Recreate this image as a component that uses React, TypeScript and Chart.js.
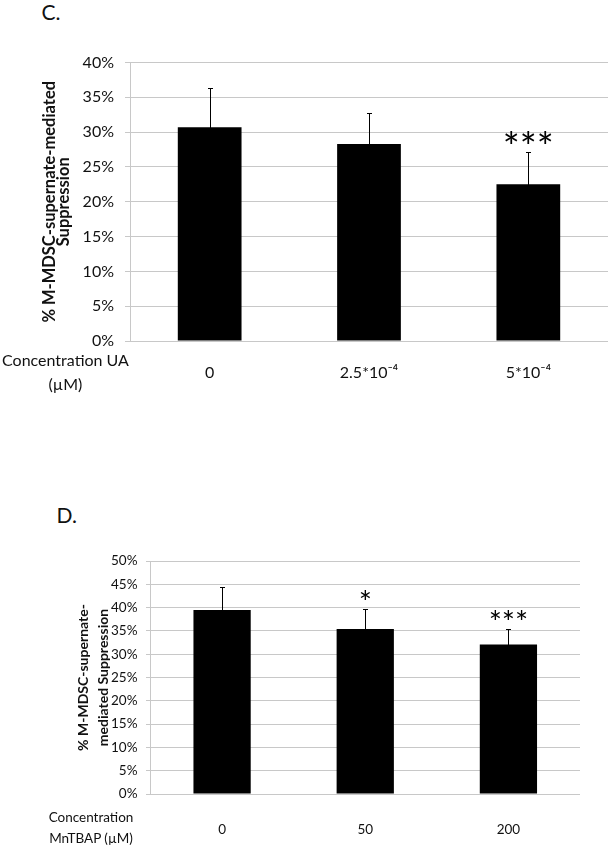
import React, { useEffect, useRef } from "react";
import { Chart, registerables } from "chart.js";

Chart.register(...registerables);

// ---------- Data: panel C ----------
const C_CATEGORIES = ["0", "2.5*10⁻⁴", "5*10⁻⁴"];
const C_VALUES = [30.7, 28.3, 22.5];
const C_ERRORS = [5.7, 4.4, 4.6];
const C_STARS = ["", "", "***"];
const C_MAX = 40;
const C_Y_TITLE = ["% M-MDSC-supernate-mediated", "Suppression"];
const C_X_TITLE = ["Concentration UA", "(µM)"];

// ---------- Data: panel D ----------
const D_CATEGORIES = ["0", "50", "200"];
const D_VALUES = [39.5, 35.4, 32.1];
const D_ERRORS = [5.0, 4.3, 3.3];
const D_STARS = ["", "*", "***"];
const D_MAX = 50;
const D_Y_TITLE = ["% M-MDSC-supernate-", "mediated Suppression"];
const D_X_TITLE = ["Concentration", "MnTBAP (µM)"];

const TICK_STEP = 5;

const FONT = "Lato";
const TEXT = "#111";
const GRID = "#c8c8c8";

type Panel = {
  categories: string[];
  values: number[];
  errors: number[];
  stars: string[];
  max: number;
  yTitle: string[];
  tickSize: number;
  titleSize: number;
  titleLineHeight: string;
  titlePad: number;
  catSize: number;
  catPad: number;
  axisWidth: number;
  xAxisHeight: number;
  padTop: number;
  padRight: number;
  tickLen: number;
  tickPad: number;
  starSize: number;
  starGap: number;
};

function errorBarPlugin(p: Panel) {
  return {
    id: "errorBarsAndStars",
    afterDatasetsDraw(chart: any) {
      const ctx = chart.ctx;
      const meta = chart.getDatasetMeta(0);
      const y = chart.scales.y;
      ctx.save();
      ctx.strokeStyle = "#000";
      ctx.lineWidth = 1;
      p.values.forEach((v, i) => {
        const bar = meta.data[i];
        if (!bar) return;
        const x = Math.round(bar.x) + 0.5;
        const yTop = Math.round(y.getPixelForValue(v + p.errors[i])) + 0.5;
        const yBot = Math.round(y.getPixelForValue(v - p.errors[i])) + 0.5;
        ctx.beginPath();
        ctx.moveTo(x, yBot);
        ctx.lineTo(x, yTop);
        ctx.moveTo(x - 2.5, yTop);
        ctx.lineTo(x + 2.5, yTop);
        ctx.moveTo(x - 2.5, yBot);
        ctx.lineTo(x + 2.5, yBot);
        ctx.stroke();
        const s = p.stars[i];
        if (s) {
          ctx.font = `${p.starSize}px ${FONT}`;
          ctx.fillStyle = "#000";
          ctx.textAlign = "center";
          ctx.textBaseline = "alphabetic";
          const m = ctx.measureText(s);
          const center = yTop - p.starGap;
          const base = center + (m.actualBoundingBoxAscent - m.actualBoundingBoxDescent) / 2;
          ctx.fillText(s, bar.x, base);
        }
      });
      ctx.restore();
    },
  };
}

function buildConfig(p: Panel): any {
  return {
    type: "bar",
    data: {
      labels: p.categories,
      datasets: [
        {
          data: p.values,
          backgroundColor: "#000",
          borderWidth: 0,
          barPercentage: 0.4,
          categoryPercentage: 1.0,
        },
      ],
    },
    options: {
      responsive: false,
      animation: false,
      devicePixelRatio: 1,
      layout: { padding: { top: p.padTop, right: p.padRight, left: 0, bottom: 0 } },
      plugins: { legend: { display: false }, tooltip: { enabled: false } },
      scales: {
        x: {
          grid: { display: false, drawTicks: false, tickLength: 0 },
          border: { display: false },
          ticks: {
            font: { family: FONT, size: p.catSize },
            color: TEXT,
            padding: p.catPad,
            maxRotation: 0,
            autoSkip: false,
          },
          afterFit: (s: any) => {
            s.height = p.xAxisHeight;
          },
        },
        y: {
          min: 0,
          max: p.max,
          grid: { color: GRID, lineWidth: 1, drawTicks: true, tickLength: p.tickLen },
          border: { display: true, color: GRID, width: 1 },
          ticks: {
            stepSize: TICK_STEP,
            callback: (v: number) => `${v}%`,
            font: { family: FONT, size: p.tickSize },
            color: TEXT,
            padding: p.tickPad,
          },
          title: {
            display: true,
            text: p.yTitle,
            color: TEXT,
            font: { family: FONT, size: p.titleSize, weight: "bold", lineHeight: p.titleLineHeight },
            padding: { top: p.titlePad, bottom: 0 },
          },
          afterFit: (s: any) => {
            s.width = p.axisWidth;
          },
        },
      },
    },
    plugins: [errorBarPlugin(p)],
  };
}

const PANEL_C: Panel = {
  categories: C_CATEGORIES,
  values: C_VALUES,
  errors: C_ERRORS,
  stars: C_STARS,
  max: C_MAX,
  yTitle: C_Y_TITLE,
  tickSize: 16,
  titleSize: 16.5,
  titleLineHeight: "14.5px",
  titlePad: 42,
  catSize: 16,
  catPad: 22.5,
  axisWidth: 130,
  xAxisHeight: 59,
  padTop: 62.5,
  padRight: 3,
  tickLen: 5,
  tickPad: 11,
  starSize: 40,
  starGap: 16,
};

const PANEL_D: Panel = {
  categories: D_CATEGORIES,
  values: D_VALUES,
  errors: D_ERRORS,
  stars: D_STARS,
  max: D_MAX,
  yTitle: D_Y_TITLE,
  tickSize: 13.5,
  titleSize: 14,
  titleLineHeight: "20px",
  titlePad: 73.5,
  catSize: 13.5,
  catPad: 27.3,
  axisWidth: 150.5,
  xAxisHeight: 55,
  padTop: 61,
  padRight: 31,
  tickLen: 4.5,
  tickPad: 8.5,
  starSize: 31,
  starGap: 15,
};

function BarPanel({ top, height, panel }: { top: number; height: number; panel: Panel }) {
  const ref = useRef<HTMLCanvasElement>(null);
  useEffect(() => {
    const chart = new Chart(ref.current as HTMLCanvasElement, buildConfig(panel));
    return () => chart.destroy();
  }, [panel]);
  return (
    <canvas
      ref={ref}
      width={611}
      height={height}
      style={{ position: "absolute", left: 0, top, width: 611, height, display: "block" }}
    />
  );
}

function TextBlock({
  lines,
  left,
  top,
  width,
  size,
  lineHeight,
}: {
  lines: string[];
  left: number;
  top: number;
  width: number;
  size: number;
  lineHeight: number;
}) {
  return (
    <div
      style={{
        position: "absolute",
        left,
        top,
        width,
        textAlign: "center",
        fontFamily: FONT,
        fontSize: size,
        lineHeight: `${lineHeight}px`,
        color: TEXT,
        whiteSpace: "nowrap",
      }}
    >
      {lines.map((l, i) => (
        <div key={i}>{l}</div>
      ))}
    </div>
  );
}

export default function App() {
  useEffect(() => {
    document.body.style.margin = "0";
  }, []);
  return (
    <div style={{ position: "relative", width: 611, height: 849, background: "#fff", overflow: "hidden" }}>
      <div
        style={{
          position: "absolute",
          left: 41.5,
          top: 1.4,
          fontFamily: FONT,
          fontSize: 21,
          lineHeight: "21px",
          color: TEXT,
        }}
      >
        C.
      </div>
      <BarPanel top={0} height={400} panel={PANEL_C} />
      <TextBlock lines={C_X_TITLE} left={0} top={348} width={131} size={16} lineHeight={24} />

      <div
        style={{
          position: "absolute",
          left: 56.5,
          top: 504.4,
          fontFamily: FONT,
          fontSize: 21,
          lineHeight: "21px",
          color: TEXT,
        }}
      >
        D.
      </div>
      <BarPanel top={500} height={349} panel={PANEL_D} />
      <TextBlock lines={D_X_TITLE} left={41} top={807.4} width={100} size={13.5} lineHeight={20.6} />
    </div>
  );
}
